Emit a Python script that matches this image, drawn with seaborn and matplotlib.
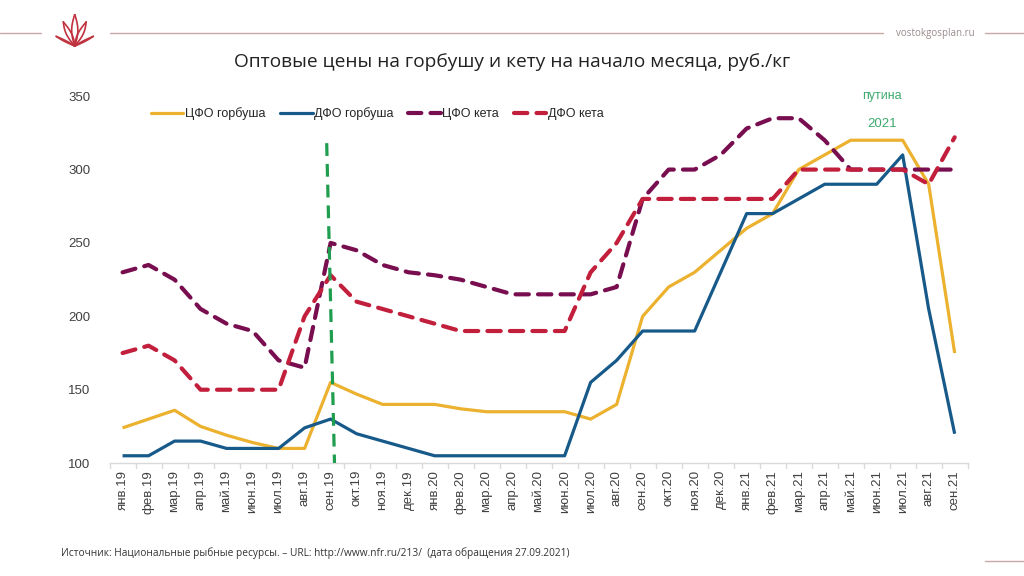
import numpy as np
import pandas as pd
import matplotlib
matplotlib.use("Agg")
import matplotlib.pyplot as plt
from matplotlib.lines import Line2D
import seaborn as sns

months = ["янв.19", "фев.19", "мар.19", "апр.19", "май.19", "июн.19", "июл.19", "авг.19",
          "сен.19", "окт.19", "ноя.19", "дек.19", "янв.20", "фев.20", "мар.20", "апр.20",
          "май.20", "июн.20", "июл.20", "авг.20", "сен.20", "окт.20", "ноя.20", "дек.20",
          "янв.21", "фев.21", "мар.21", "апр.21", "май.21", "июн.21", "июл.21", "авг.21",
          "сен.21"]

cfo_gorbusha = [124, 130, 136, 125, 119, 114, 110, 110, 155, 147, 140, 140, 140, 137, 135, 135,
                135, 135, 130, 140, 200, 220, 230, 245, 260, 270, 300, 310, 320, 320, 320, 290,
                175]
dfo_gorbusha = [105, 105, 115, 115, 110, 110, 110, 124, 130, 120, 115, 110, 105, 105, 105, 105,
                105, 105, 155, 170, 190, 190, 190, 230, 270, 270, 280, 290, 290, 290, 310, 205,
                120]
cfo_keta = [230, 235, 225, 205, 195, 190, 170, 165, 250, 245, 235, 230, 228, 225, 220, 215,
            215, 215, 215, 220, 280, 300, 300, 310, 328, 335, 335, 320, 300, 300, 300, 300,
            300]
dfo_keta = [175, 180, 170, 150, 150, 150, 150, 200, 228, 210, 205, 200, 195, 190, 190, 190,
            190, 190, 230, 250, 280, 280, 280, 280, 280, 280, 300, 300, 300, 300, 300, 290,
            322]

series_names = ["ЦФО горбуша", "ДФО горбуша", "ЦФО кета", "ДФО кета"]
series_values = [cfo_gorbusha, dfo_gorbusha, cfo_keta, dfo_keta]
colors = ["#EBB12F", "#175A8A", "#780E4F", "#C21F3C"]

season_month = "сен.19"
season_label = ["путина", "2021"]

title = "Оптовые цены на горбушу и кету на начало месяца, руб./кг"
source = "Источник: Национальные рыбные ресурсы. – URL: http://www.nfr.ru/213/  (дата обращения 27.09.2021)"

sns.set_theme(style="white")
plt.rcParams["font.family"] = ["Liberation Sans", "DejaVu Sans"]

fig = plt.figure(figsize=(10.24, 5.76), dpi=100)
ax = fig.add_axes([0.107, 0.196, 0.838, 0.637])

x = np.arange(len(months))
for name, vals, col in zip(series_names, series_values, colors):
    dashed = "кета" in name
    df = pd.DataFrame({"x": x, "y": vals})
    sns.lineplot(data=df, x="x", y="y", ax=ax, color=col,
                 linewidth=3.0 if dashed else 2.3, label=name)
    ln = ax.get_lines()[-1]
    if dashed:
        ln.set_dashes((3.2, 2.2))
        ln.set_dash_capstyle("round")
    ln.set_solid_capstyle("butt")

# season marker
si = months.index(season_month)
ax.plot([si - 0.15, si + 0.15], [318, 100], color="#1E9E4E", linewidth=2.3,
        dashes=(4, 2.5), zorder=5)

ax.set_xlim(-0.5, len(months) - 0.5)
ax.set_ylim(100, 350)
ax.set_yticks([100, 150, 200, 250, 300, 350])
ax.set_xticks(x)
ax.set_xticklabels(months, rotation=90, fontsize=9.5, color="#404040")
ax.tick_params(axis="y", labelsize=9.5, labelcolor="#404040", length=0, pad=14)
ax.tick_params(axis="x", length=0, pad=5)
ax.set_xlabel("")
ax.set_ylabel("")
for s in ["top", "right", "left"]:
    ax.spines[s].set_visible(False)
ax.spines["bottom"].set_color("#D9D9D9")
ax.spines["bottom"].set_linewidth(1)
# tick marks between categories
for b in np.arange(-0.5, len(months), 1.0):
    ax.plot([b, b], [100, 97], color="#D9D9D9", linewidth=1, clip_on=False)

handles = []
for name, col in zip(series_names, colors):
    if "кета" in name:
        h = Line2D([], [], color=col, linewidth=3.0, dashes=(3.2, 2.2), dash_capstyle="round")
    else:
        h = Line2D([], [], color=col, linewidth=2.3)
    handles.append(h)
ax.legend(handles, series_names, loc="upper left", bbox_to_anchor=(0.035, 1.0), ncol=4,
          frameon=False, fontsize=9, handlelength=2.6, handletextpad=0.1, columnspacing=1.2)

ax.text(29.2, 350, season_label[0], color="#3DAA6E", fontsize=9, ha="center", va="center")
ax.text(29.2, 331, season_label[1], color="#3DAA6E", fontsize=9.5, ha="center", va="center")

# header decorations
hc = "#C9A8A8"
fig.add_artist(Line2D([0, 0.04], [0.942, 0.942], color=hc, linewidth=1))
fig.add_artist(Line2D([0.107, 0.862], [0.942, 0.942], color=hc, linewidth=1))
fig.add_artist(Line2D([0.962, 1.0], [0.942, 0.942], color=hc, linewidth=1))
fig.add_artist(Line2D([0.962, 1.0], [0.026, 0.026], color=hc, linewidth=1))
fig.text(0.913, 0.942, "vostokgosplan.ru", fontsize=7, color="#9A8A8A",
         ha="center", va="center", family=["Open Sans", "DejaVu Sans"])

# simple lotus logo
la = fig.add_axes([0.048, 0.915, 0.05, 0.06])
la.set_xlim(-1, 1)
la.set_ylim(0, 1.2)
la.axis("off")
t = np.linspace(0, 1, 50)
for ang, ln_ in [(-65, 0.8), (-28, 0.95), (0, 1.1), (28, 0.95), (65, 0.8)]:
    a = np.deg2rad(ang)
    px = np.sin(a) * ln_ * t + 0.12 * np.sin(np.pi * t) * np.cos(a)
    py = 0.1 + np.cos(a) * ln_ * t
    la.plot(px, py, color="#C0323F", linewidth=1.2)
    la.plot(px - 0.24 * np.sin(np.pi * t) * np.cos(a), py, color="#C0323F", linewidth=1.2)

fig.text(0.5, 0.893, title, fontsize=13.8, color="#222222", ha="center", va="center",
         family=["Open Sans", "DejaVu Sans"])
fig.text(0.06, 0.04, source, fontsize=7.3, color="#333333", ha="left", va="center",
         family=["Open Sans", "DejaVu Sans"])

fig.savefig("out.png", dpi=100)
